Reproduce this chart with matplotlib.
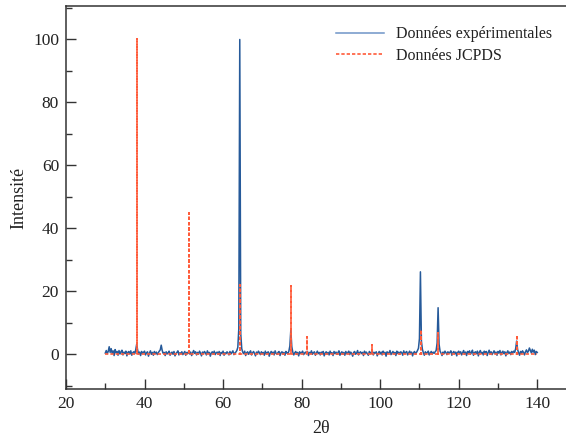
import numpy as np
import matplotlib
matplotlib.use("Agg")
import matplotlib.pyplot as plt
from matplotlib.ticker import MultipleLocator

plt.rcParams['font.family'] = ['Liberation Serif', 'DejaVu Serif']

# Experimental pattern: 2-theta grid from 30 to 140 in 0.25 steps
x_start, x_stop, x_step = 30.0, 140.0, 0.25
y_exp = [
    0.4, 1.2, 0.2, 0.9, 2.4, 0.6, 1.8, 0.3, 1.1, -0.4, 1.5, 0.5, 0.9, -0.3, 1.2, 0.1, 0.8, 1.3, -0.2, 0.7,
    0.3, 1.0, -0.5, 0.6, 0.9, 0.1, 1.1, -0.3, 0.5, 0.8, 0.2, 1.4, 3.2, 1.3, 0.1, 0.7, -0.4, 0.9, 0.3, 0.6,
    1.0, -0.2, 0.5, 0.8, -0.6, 0.4, 1.1, 0.0, 0.6, -0.3, 0.9, 0.2, 0.7, -0.1, 0.5, 1.0, 1.4, 2.9, 1.2, 0.3,
    0.6, -0.4, 0.8, 0.1, 0.5, 1.0, -0.3, 0.4, 0.7, 0.0, 0.9, -0.5, 0.3, 0.6, 1.1, -0.2, 0.5, 0.2, 0.8, -0.1,
    0.4, 0.9, -0.3, 0.6, 0.2, 1.0, 0.1, 0.7, -0.4, 0.5, 1.2, 0.3, 0.8, -0.2, 0.6, 0.0, 1.0, 0.4, -0.5, 0.7,
    0.2, 0.9, 0.5, -0.2, 1.1, 0.3, 0.6, -0.6, 0.4, 0.8, 0.1, 1.0, -0.1, 0.5, 0.7, 0.0, 0.9, -0.4, 0.6, 0.3,
    1.0, -0.3, 0.5, 0.2, 0.8, 0.4, -0.2, 0.9, 0.1, 0.6, 1.1, -0.1, 0.4, 0.7, 1.2, 2.2, 8.0, 100.0, 6.5, 1.8,
    0.7, 0.2, 1.0, -0.4, 0.5, 0.8, 0.0, 0.6, 1.1, -0.2, 0.4, 0.9, 0.3, -0.5, 0.7, 0.2, 1.0, 0.5, -0.1, 0.8,
    0.3, 0.6, -0.3, 1.0, 0.1, 0.5, 0.8, -0.6, 0.4, 0.9, 0.2, 0.7, -0.2, 1.1, 0.3, 0.0, 0.6, 0.9, -0.4, 0.5,
    0.8, 0.1, 0.6, -0.3, 0.9, 0.4, 0.2, 1.0, 2.6, 7.7, 2.4, 0.7, -0.2, 0.5, 0.9, 0.0, 0.6, -0.5, 0.8, 0.3,
    0.5, 1.0, -0.1, 0.4, 0.7, 0.2, 0.9, -0.4, 0.6, 0.3, 1.1, 0.0, 0.5, 0.8, -0.3, 0.4, 1.0, 0.2, 0.6, -0.2,
    0.7, 0.3, 0.9, -0.5, 0.4, 0.8, 0.1, 0.6, -0.2, 1.0, 0.3, 0.5, -0.4, 0.9, 0.2, 0.7, 0.0, 0.5, 1.1, -0.3,
    0.4, 0.8, 0.1, 0.6, -0.3, 0.9, 0.2, 0.5, 1.0, -0.1, 0.7, 0.3, -0.6, 0.6, 0.9, 0.0, 0.4, 1.2, -0.2, 0.5,
    0.8, 0.2, 0.6, -0.4, 1.0, 0.3, 0.7, 0.1, -0.3, 0.9, 0.5, 0.2, 1.1, -0.2, 0.6, 0.4, 0.8, -0.5, 0.3, 0.9,
    0.1, 0.7, -0.2, 1.0, 0.4, 0.6, -0.6, 0.8, 0.3, 0.5, 1.2, -0.1, 0.4, 0.9, 0.2, 0.6, -0.4, 1.0, 0.3, 0.7,
    0.0, 0.8, 0.5, -0.3, 1.1, 0.2, 0.6, 0.9, -0.2, 0.4, 1.0, 0.3, 0.7, -0.5, 0.5, 0.9, 0.1, 0.6, 1.2, 1.9,
    5.0, 26.2, 4.2, 1.6, 0.5, -0.3, 0.8, 0.2, 0.6, 1.0, -0.2, 0.4, 0.9, 0.1, 0.7, 0.3, 0.8, 1.2, 3.6, 14.8,
    3.2, 1.0, 0.4, -0.4, 0.7, 0.2, 1.0, 0.5, -0.1, 0.8, 0.3, 0.6, 1.1, -0.3, 0.5, 0.9, 0.2, 0.7, -0.5, 0.6,
    1.0, 0.3, 0.8, -0.2, 0.5, 1.2, 0.1, 0.7, -0.4, 0.9, 0.4, 1.1, 0.0, 0.6, 1.3, -0.3, 0.5, 0.8, 0.2, 1.0,
    -0.5, 0.7, 1.2, 0.3, 0.6, -0.2, 1.0, 0.4, 0.9, -0.4, 0.6, 1.3, 0.1, 0.8, -0.1, 0.5, 1.1, 0.2, 0.7, -0.3,
    0.9, 0.4, 1.2, -0.2, 0.6, 1.0, 0.2, 0.8, -0.5, 0.5, 1.1, 0.3, 0.7, -0.1, 0.9, 0.4, 1.0, 0.6, 1.8, 4.2,
    1.5, 0.5, -0.3, 0.9, 0.3, 1.1, 0.6, -0.2, 0.8, 1.4, 0.5, 1.0, 2.0, 1.2, 0.4, 1.6, 0.7, 1.3, -0.1, 0.9,
    0.6,
]

# Reference (JCPDS) lines
jcpds_pos = [38.0, 51.2, 64.3, 77.3, 81.4, 97.9, 110.3, 114.8, 134.8]
jcpds_int = [100.0, 45.0, 22.0, 21.7, 5.5, 2.8, 7.7, 6.7, 6.2]

x_ticks = [20, 40, 60, 80, 100, 120, 140]
y_ticks = [0, 20, 40, 60, 80, 100]

x_exp = x_start + x_step * np.arange(len(y_exp))

# build stick line (baseline - peak - baseline) for JCPDS
xs = [x_start]
ys = [0.0]
for p, h in zip(jcpds_pos, jcpds_int):
    xs += [p, p, p]
    ys += [0.0, h, 0.0]
xs.append(x_stop)
ys.append(0.0)

fig = plt.figure(figsize=(5.66, 4.37), dpi=100)
ax = fig.add_axes([0.1166, 0.110, 0.902, 0.876])

ax.plot(x_exp, y_exp, color='#265a9a', lw=1.1, label='Données expérimentales')
ax.plot(xs, ys, color='#ff5b3a', lw=1.2, linestyle=(0, (2.0, 1.2)), label='Données JCPDS')

ax.set_xlim(20, 150)
ax.set_ylim(-11, 110.6)
ax.set_xticks(x_ticks)
ax.set_yticks(y_ticks)
ax.xaxis.set_minor_locator(MultipleLocator(10))
ax.yaxis.set_minor_locator(MultipleLocator(10))
ax.tick_params(which='major', direction='in', length=7.5, width=1.0, color='#333333',
               labelsize=12.5, labelcolor='#222222', pad=5)
ax.tick_params(which='minor', direction='in', length=4.2, width=1.0, color='#333333')
ax.spines['right'].set_visible(False)
for s in ['left', 'bottom', 'top']:
    ax.spines[s].set_linewidth(1.1)
    ax.spines[s].set_color('#333333')

ax.set_xlabel('2θ', fontsize=13, color='#222222', labelpad=6)
ax.set_ylabel('Intensité', fontsize=13, color='#222222', labelpad=4)

leg = ax.legend(loc='upper left', bbox_to_anchor=(0.50, 0.985), frameon=False,
                fontsize=11.5, handlelength=3.0, handletextpad=0.8, labelspacing=0.35)
leg.get_lines()[0].set_color('#6f95c8')
for t in leg.get_texts():
    t.set_color('#222222')

fig.savefig('out.png', dpi=100)
